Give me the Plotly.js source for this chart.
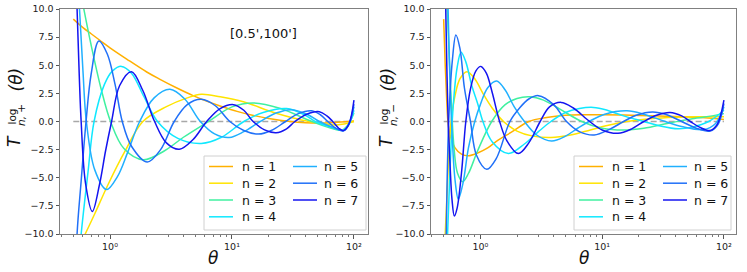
<!DOCTYPE html>
<html><head><meta charset="utf-8">
<script src="https://cdn.plot.ly/plotly-3.0.1.min.js"></script>
<style>html,body{margin:0;padding:0;background:#fff;}#chart{width:747px;height:272px;}</style>
</head><body><div id="chart"></div>
<script>
// ---- data (theta in arcmin, filter value) ----
const seriesLabels = ['n = 1','n = 2','n = 3','n = 4','n = 5','n = 6','n = 7'];
const seriesColors = ['#FFB000','#FFE400','#40F0A0','#10E8FF','#20B0FF','#2070F8','#1414F0'];

// T_{n,+}^log
const p1_theta = [0.5,0.6,0.7,0.83,1.0,1.37,2.0,2.57,3.5,4.8,6.5,8.0,11,15,20,30,40,55,70,85,100];
const p1_T     = [9.1,8.35,7.8,7.2,6.55,5.55,4.4,3.75,3.0,2.3,1.72,1.38,0.9,0.54,0.27,0.0,-0.1,-0.13,-0.09,-0.03,0.05];
const p2_theta = [0.5,0.62,0.75,0.96,1.32,1.86,2.9,4.3,5.6,8.0,12.4,23,43,72,100];
const p2_T     = [-12.3,-10.1,-8.2,-5.64,-2.68,0,1.32,2.1,2.42,2.2,1.76,0.73,0.0,-0.3,0.0];
const p3_theta = [0.5,0.6,0.7,0.85,1.01,1.3,1.87,2.8,4.0,6.4,10,15,25,45,65,80,90,100];
const p3_T     = [15,10.4,6.8,2.8,0,-2.4,-3.4,-2.6,-1.4,0,1.3,1.65,1.15,0,-0.6,-0.75,-0.25,0.75];
const p4_theta = [0.5,0.58,0.66,0.74,0.9,1.05,1.24,1.5,1.9,2.45,3.6,5.6,8.2,12.5,18,28,40,48,65,82,91,100];
const p4_T     = [-18,-10,-4.5,0,3.3,4.5,4.9,4.3,2.2,0,-1.5,-1.95,-1.4,0,0.8,1.15,0.55,0,-0.5,-0.78,-0.25,1.0];
const p5_theta = [0.5,0.56,0.6,0.64,0.75,0.936,1.15,1.4,1.75,2.3,3.1,4.1,5.5,7.2,9.5,12.5,17,23,31,42,52,68,82,91,100];
const p5_T     = [20,10.3,4.5,0,-4.3,-6.05,-4.9,-2.7,0,2.1,2.86,2.0,0,-1.1,-1.42,-0.9,0,0.75,1.05,0.6,0,-0.55,-0.8,-0.2,1.3];
const p6_theta = [0.5,0.537,0.58,0.636,0.7,0.81,0.95,1.1,1.26,1.5,2.02,2.6,3.36,4.3,5.6,7.3,9.6,12.5,16.5,21,27.5,35,45,53,61,70,82,91,100];
const p6_T     = [-20,-10,-5.3,0,4.2,7.16,6.0,3.3,0,-2.2,-3.6,-2.5,0,1.5,1.97,1.4,0,-0.8,-1.12,-0.8,0,0.7,0.95,0.6,0,-0.55,-0.83,-0.25,1.55];
const p7_theta = [0.5,0.537,0.56,0.58,0.63,0.716,0.82,0.92,1.03,1.2,1.5,1.85,2.32,2.9,3.7,4.8,6.2,8,10.3,12.5,14.9,18.5,23,28,32.8,41,52,60,67,75,82,91,100];
const p7_T     = [22,10,4,0,-5.5,-8.0,-5.6,-2.6,0,3.2,4.43,2.8,0,-1.9,-2.47,-1.6,0,1.15,1.5,1.0,0,-0.75,-1.0,-0.65,0,0.65,0.87,0.5,0,-0.6,-0.81,-0.2,1.9];

// T_{n,-}^log
const m1_theta = [0.5,0.515,0.53,0.545,0.565,0.62,0.7,0.8,0.95,1.15,1.4,1.8,2.5,3.5,5,7,10,15,25,40,60,80,100];
const m1_T     = [9.1,5,1.8,-0.3,-1.2,-2.35,-2.9,-3.05,-2.8,-2.35,-1.65,-0.95,0,0.35,0.55,0.6,0.6,0.57,0.52,0.45,0.37,0.28,0.18];
const m2_theta = [0.5,0.53,0.575,0.62,0.68,0.775,0.9,1.05,1.25,1.55,2.0,2.7,3.8,5.5,8,11,16,25,40,60,100];
const m2_T     = [-13,-7,0,2.3,3.8,4.43,3.8,2.5,1.2,0,-0.85,-1.3,-1.42,-1.2,-0.75,-0.35,0,0.25,0.38,0.42,0.42];
const m3_theta = [0.5,0.535,0.57,0.61,0.65,0.715,0.8,0.95,1.24,1.6,2.0,2.55,3.3,4.5,6.8,10,15,22,35,55,80,100];
const m3_T     = [20,10,3,-2.5,-4.6,-5.35,-4.6,-2.6,0,1.5,2.05,2.2,1.9,1.1,0,-0.6,-0.76,-0.6,-0.15,0.25,0.5,0.7];
const m4_theta = [0.5,0.53,0.565,0.6,0.645,0.695,0.76,0.85,0.95,1.05,1.25,1.7,2.3,3.0,3.8,5.0,6.5,8.5,11,15,22,30,42,55,75,100];
const m4_T     = [-22,-12,-4,1.5,4.8,6.15,5.3,3.2,1.6,0,-1.8,-2.85,-2.0,-0.9,0,0.8,1.15,1.25,1.0,0.5,0,-0.4,-0.65,-0.5,0,1.0];
const m5_theta = [0.5,0.525,0.555,0.58,0.62,0.66,0.72,0.8,0.9,1.0,1.15,1.36,1.6,1.9,2.3,2.9,3.85,5.0,6.3,7.8,10.5,16,22,33,45,68,85,100];
const m5_T     = [30,17,6,0,-5.2,-6.9,-5.5,-2.3,0,1.5,3.0,3.6,2.8,1.3,0,-1.2,-1.73,-1.3,-0.6,0,0.65,0.95,0.65,0,-0.45,-0.72,-0.2,1.3];
const m6_theta = [0.5,0.525,0.55,0.59,0.63,0.68,0.74,0.83,0.93,1.13,1.35,1.75,2.1,2.5,3.0,4.0,5.1,6.5,8.6,11.5,15,19,26,34,45,58,77,90,100];
const m6_T     = [-30,-10,0,5.5,7.7,6.5,3.0,0,-3.0,-4.25,-3.3,0,1.2,2.0,2.3,1.5,0,-0.9,-1.2,-0.7,0,0.55,0.85,0.6,0,-0.55,-0.85,-0.2,1.6];
const m7_theta = [0.5,0.52,0.533,0.545,0.565,0.585,0.612,0.645,0.7,0.76,0.83,0.92,1.01,1.12,1.25,1.44,1.65,2.05,2.5,3.1,3.7,4.6,5.8,7.9,10,13.5,17.5,22,28,36,45,53,63,77,88,100];
const m7_T     = [30,10,4,0,-4.0,-6.9,-8.4,-7.7,-4.6,0,2.9,4.5,4.9,4.3,2.6,0,-1.7,-2.85,-1.9,0,1.3,1.7,1.2,0,-0.75,-1.05,-0.65,0,0.55,0.8,0.5,0,-0.5,-0.8,-0.25,1.9];

const zeroLineTheta = [0.5, 100];
const zeroLineT = [0, 0];

const xTickVals = [1, 10, 100];
const xTickText = ['10\u2070','10\u00B9','10\u00B2'];
const xMinorVals = [0.4,0.5,0.6,0.7,0.8,0.9,2,3,4,5,6,7,8,9,20,30,40,50,60,70,80,90];
const yTickVals = [-10,-7.5,-5,-2.5,0,2.5,5,7.5,10];
const yTickText = ['\u221210.0','\u22127.5','\u22125.0','\u22122.5','0.0','2.5','5.0','7.5','10.0'];

// ---- build ----
const W = 747, H = 272;
const fx = v => v / W, fy = v => 1 - v / H;
const plusTheta = [p1_theta,p2_theta,p3_theta,p4_theta,p5_theta,p6_theta,p7_theta];
const plusT = [p1_T,p2_T,p3_T,p4_T,p5_T,p6_T,p7_T];
const minusTheta = [m1_theta,m2_theta,m3_theta,m4_theta,m5_theta,m6_theta,m7_theta];
const minusT = [m1_T,m2_T,m3_T,m4_T,m5_T,m6_T,m7_T];

const traces = [];
[['x','y'],['x2','y2']].forEach(([xa,ya]) => {
  traces.push({x: zeroLineTheta, y: zeroLineT, xaxis: xa, yaxis: ya, mode: 'lines',
    line: {color: '#a8a8a8', width: 1.5, dash: '6px,3px'}, showlegend: false, hoverinfo: 'skip'});
});
for (let i = 0; i < 7; i++) {
  traces.push({x: plusTheta[i], y: plusT[i], xaxis: 'x', yaxis: 'y', mode: 'lines',
    line: {color: seriesColors[i], width: 1.5, shape: 'spline', smoothing: 1}, showlegend: false, hoverinfo: 'skip'});
  traces.push({x: minusTheta[i], y: minusT[i], xaxis: 'x2', yaxis: 'y2', mode: 'lines',
    line: {color: seriesColors[i], width: 1.5, shape: 'spline', smoothing: 1}, showlegend: false, hoverinfo: 'skip'});
}

const tickFont = {family: 'DejaVu Sans', size: 9.5, color: '#222'};
function xAxis(domain, range, anchor) {
  return {domain, range, anchor, type: 'log', tickvals: xTickVals, ticktext: xTickText,
    ticks: 'outside', ticklen: 3.5, tickwidth: 1, tickcolor: '#555',
    showline: true, mirror: true, linecolor: '#808080', linewidth: 1,
    showgrid: false, zeroline: false, tickfont: tickFont,
    minor: {tickvals: xMinorVals, ticks: 'outside', ticklen: 2, tickwidth: 0.8, tickcolor: '#555', showgrid: false}};
}
function yAxis(anchor) {
  return {domain: [fy(234), fy(9)], range: [-10, 10], anchor, tickvals: yTickVals, ticktext: yTickText,
    ticks: 'outside', ticklen: 3.5, tickwidth: 1, tickcolor: '#555',
    showline: true, mirror: true, linecolor: '#808080', linewidth: 1,
    showgrid: false, zeroline: false, tickfont: tickFont};
}

const ann = [];
const shapes = [];
function txt(x, y, text, size, extra, style) {
  ann.push(Object.assign({xref: 'paper', yref: 'paper', x: fx(x), y: fy(y), text, showarrow: false,
    xanchor: 'center', yanchor: 'middle', font: {family: 'DejaVu Sans', size, color: '#111', style: style || 'normal'}}, extra || {}));
}
// panel label
txt(263, 33, "[0.5',100']", 13);
// x titles
txt(213, 258, 'θ', 17, {}, 'italic');
txt(584, 258, 'θ', 17, {}, 'italic');
// y titles (stacked super/subscripts)
function ylab(dx, sign) {
  txt(14 + dx, 141, 'T', 17, {textangle: -90}, 'italic');
  txt(11.5 + dx, 117, 'log', 10.5, {textangle: -90});
  txt(21 + dx, 115, 'n, ' + sign, 10.5, {textangle: -90}, 'italic');
  txt(15.5 + dx, 80, '(θ)', 17, {textangle: -90}, 'italic');
}
ylab(0, '+');
ylab(372, '\u2212');

// legends (two columns inside a framed box, lower right)
function legend(bx0, bx1) {
  shapes.push({type: 'rect', xref: 'paper', yref: 'paper', x0: fx(bx0), x1: fx(bx1), y0: fy(230), y1: fy(156),
    line: {color: '#d0d0d0', width: 1}, fillcolor: 'rgba(255,255,255,0.85)', layer: 'above'});
  const rows = [166.5, 183.2, 200, 216.8];
  for (let i = 0; i < 7; i++) {
    const col = i < 4 ? 0 : 1, row = i < 4 ? i : i - 4;
    const lx = bx0 + (col === 0 ? 5 : 89);
    const yy = rows[row];
    shapes.push({type: 'line', xref: 'paper', yref: 'paper', x0: fx(lx), x1: fx(lx + 24), y0: fy(yy), y1: fy(yy),
      line: {color: seriesColors[i], width: 1.5}, layer: 'above'});
    txt(bx0 + (col === 0 ? 36 : 118), yy, seriesLabels[i], 12.5, {xanchor: 'left'});
  }
}
legend(204, 366);
legend(574, 731);

const layout = {
  width: W, height: H, margin: {l: 0, r: 0, t: 0, b: 0},
  paper_bgcolor: '#fff', plot_bgcolor: '#fff', showlegend: false,
  xaxis: xAxis([fx(60), fx(368)], [-0.41, 2.115], 'y'),
  yaxis: yAxis('x'),
  xaxis2: xAxis([fx(431), fx(736)], [-0.405, 2.099], 'y2'),
  yaxis2: yAxis('x2'),
  annotations: ann, shapes: shapes,
  font: {family: 'DejaVu Sans'}
};
Plotly.newPlot('chart', traces, layout, {displayModeBar: false, staticPlot: true});
</script></body></html>
